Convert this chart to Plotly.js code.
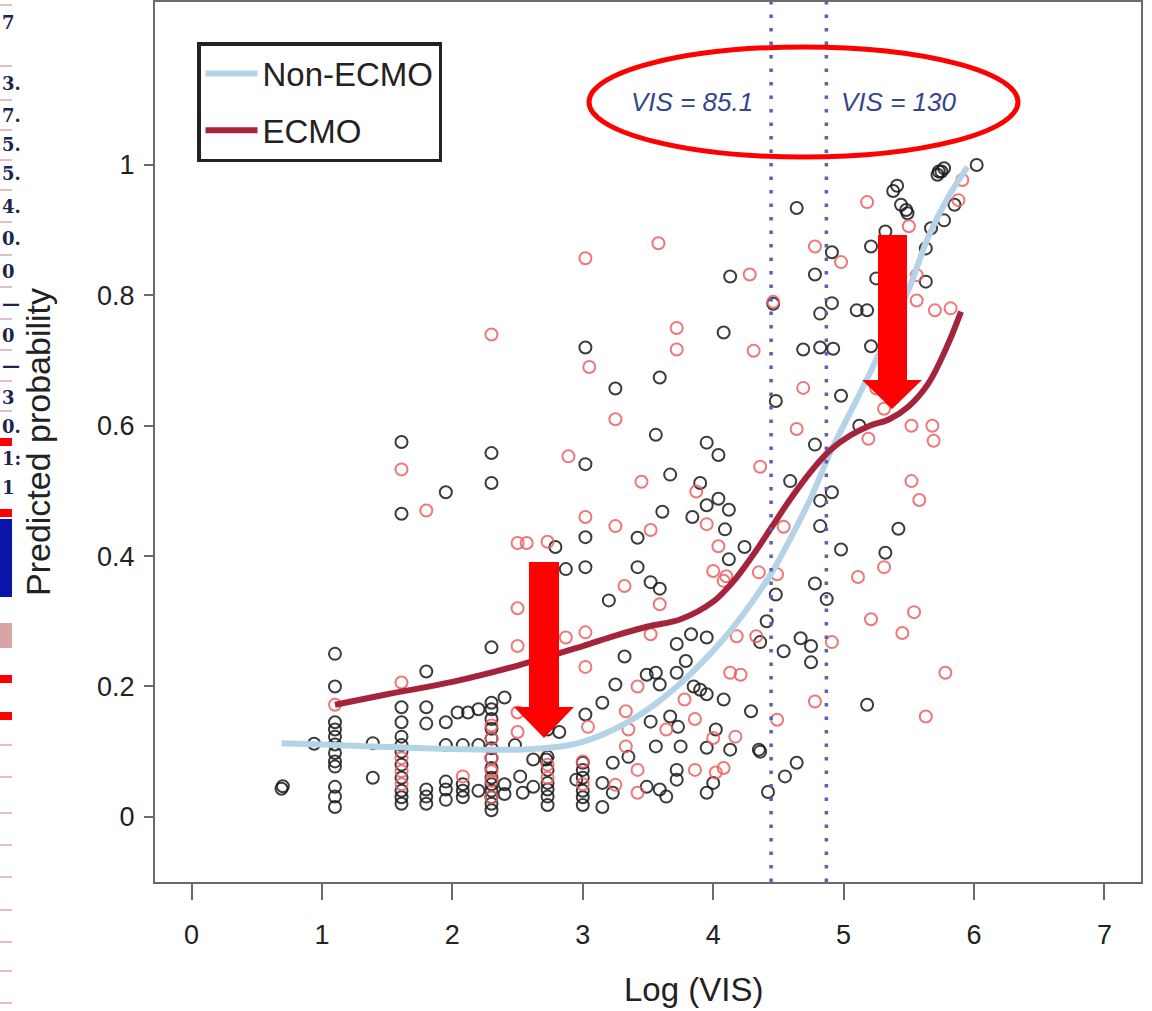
<!DOCTYPE html>
<html>
<head>
<meta charset="utf-8">
<script src="https://cdn.plot.ly/plotly-3.0.1.min.js"></script>
<style>html,body{margin:0;padding:0;background:#fff;}#chart{width:1152px;height:1011px;}</style>
</head>
<body>
<div id="chart"></div>
<script>
// ---------- data ----------
const blackX = [
0.69,0.70,0.94,
1.10,1.10,1.10,1.10,1.10,1.10,1.10,1.10,1.10,1.10,1.10,1.10,
1.39,1.39,
1.61,1.61,1.61,1.61,1.61,1.61,1.61,1.61,1.61,1.61,1.61,1.61,
1.80,1.80,1.80,1.80,1.80,1.80,
1.95,1.95,1.95,1.95,1.95,1.95,
2.04,2.12,2.08,2.08,2.08,2.08,
2.20,2.20,2.20,
2.30,2.30,2.30,2.30,2.30,2.30,2.30,2.30,2.30,2.30,2.30,2.30,2.30,2.30,2.30,2.30,2.30,
2.40,2.40,2.40,
2.48,2.52,2.54,2.62,2.62,2.72,
2.73,2.73,2.73,2.73,2.73,2.73,2.73,
2.82,2.79,2.87,2.95,
3.00,3.00,3.00,3.00,3.00,3.00,3.02,
3.02,3.02,3.02,3.02,
3.15,3.15,3.15,3.23,3.23,3.20,3.25,3.25,
3.32,3.35,3.42,3.42,3.49,3.49,3.52,3.52,3.56,3.56,3.56,3.59,3.59,3.59,3.59,3.61,3.64,
3.67,3.67,3.72,3.72,3.72,3.72,3.73,3.75,3.79,3.83,3.84,3.85,3.90,3.90,
3.95,3.95,3.95,3.95,3.95,3.95,4.00,4.02,
4.04,4.04,4.08,4.08,4.09,4.12,4.12,4.13,4.13,4.24,4.29,4.35,4.36,4.36,
4.41,4.42,4.48,4.48,4.46,4.54,4.55,4.59,4.64,4.64,4.67,4.69,4.75,4.75,4.78,4.78,4.78,
4.82,4.82,4.82,4.82,4.87,4.91,4.91,4.91,4.92,4.98,4.98,
5.10,5.12,5.18,5.18,5.21,5.21,5.25,5.32,5.32,5.38,5.41,5.42,5.44,5.48,5.49,
5.63,5.63,5.67,5.72,5.73,5.75,5.77,5.77,5.85,6.02
];
const blackY = [
0.043,0.047,0.112,
0.25,0.20,0.145,0.134,0.123,0.111,0.098,0.085,0.077,0.046,0.031,0.015,
0.113,0.06,
0.575,0.465,0.168,0.145,0.123,0.11,0.10,0.08,0.06,0.04,0.03,0.02,
0.223,0.168,0.143,0.042,0.031,0.02,
0.498,0.145,0.11,0.054,0.042,0.026,
0.16,0.16,0.11,0.05,0.04,0.03,
0.165,0.11,0.04,
0.558,0.512,0.26,0.175,0.165,0.15,0.135,0.12,0.105,0.09,0.075,0.06,0.05,0.04,0.03,0.02,0.01,
0.183,0.05,0.035,
0.11,0.062,0.037,0.046,0.088,0.088,
0.134,0.092,0.072,0.052,0.042,0.031,0.018,
0.13,0.414,0.38,0.057,
0.083,0.072,0.06,0.04,0.03,0.018,0.157,
0.72,0.541,0.429,0.383,
0.175,0.015,0.052,0.083,0.037,0.332,0.657,0.203,
0.246,0.092,0.428,0.383,0.218,0.046,0.36,0.146,0.586,0.221,0.108,0.674,0.35,0.203,0.042,0.468,0.031,
0.525,0.154,0.265,0.221,0.072,0.057,0.138,0.108,0.239,0.28,0.46,0.2,0.512,0.195,
0.574,0.478,0.275,0.188,0.106,0.037,0.052,0.134,
0.555,0.488,0.743,0.18,0.441,0.471,0.395,0.829,0.103,0.414,0.162,0.103,0.268,0.1,
0.3,0.038,0.638,0.341,0.787,0.254,0.062,0.515,0.934,0.083,0.274,0.717,0.262,0.237,0.832,0.571,0.358,
0.772,0.72,0.485,0.446,0.334,0.866,0.788,0.498,0.718,0.646,0.41,
0.777,0.6,0.777,0.172,0.875,0.722,0.826,0.898,0.405,0.96,0.968,0.442,0.939,0.931,0.926,
0.872,0.821,0.903,0.985,0.99,0.99,0.995,0.915,0.939,1.0
];
const redX = [
1.10,
1.61,1.61,1.61,1.61,1.61,
1.80,2.08,
2.30,2.30,2.30,2.30,2.30,2.30,2.30,
2.50,2.50,2.50,2.50,2.50,
2.57,2.73,2.73,2.73,2.87,2.89,
3.00,3.00,3.02,3.02,3.02,3.02,3.04,3.05,
3.25,3.25,3.25,3.32,3.33,3.33,3.35,3.42,3.42,3.42,3.45,3.52,3.52,3.58,3.59,3.64,
3.72,3.72,3.78,3.86,3.86,3.87,3.95,4.00,4.00,4.02,4.04,4.08,4.08,4.10,4.13,4.17,4.18,4.21,4.28,
4.31,4.33,4.35,4.36,4.46,4.49,4.49,4.54,4.64,4.69,4.78,4.78,4.91,4.98,
5.11,5.18,5.19,5.21,5.25,5.31,5.31,5.45,5.50,5.52,5.52,5.54,5.56,5.56,5.58,5.63,5.68,5.69,5.70,5.78,5.82,5.88,5.91
];
const redY = [
0.172,
0.533,0.206,0.09,0.07,0.05,
0.47,0.062,
0.74,0.14,0.12,0.09,0.07,0.055,0.03,
0.42,0.32,0.262,0.16,0.13,
0.42,0.422,0.08,0.06,0.275,0.553,
0.085,0.05,0.857,0.283,0.23,0.46,0.138,0.69,
0.61,0.446,0.049,0.354,0.162,0.108,0.134,0.2,0.072,0.037,0.514,0.44,0.28,0.88,0.326,0.134,
0.75,0.717,0.18,0.15,0.072,0.499,0.449,0.377,0.121,0.068,0.415,0.362,0.075,0.369,0.221,0.123,0.277,0.218,0.832,
0.715,0.277,0.375,0.537,0.79,0.372,0.149,0.445,0.595,0.658,0.875,0.177,0.268,0.851,
0.368,0.943,0.58,0.303,0.657,0.626,0.383,0.282,0.906,0.6,0.515,0.314,0.831,0.792,0.486,0.154,0.6,0.577,0.777,0.221,0.78,0.946,0.977
];
// smoothed curves
const nonEcmoX = [0.69,1.0,1.5,2.0,2.5,2.8,3.0,3.25,3.5,3.75,4.0,4.15,4.3,4.45,4.6,4.75,4.9,5.05,5.2,5.35,5.5,5.65,5.8,5.95];
const nonEcmoY = [0.113,0.111,0.107,0.104,0.103,0.107,0.115,0.135,0.165,0.205,0.255,0.29,0.33,0.375,0.43,0.49,0.56,0.62,0.68,0.745,0.81,0.89,0.95,0.997];
const ecmoX = [1.1,1.5,2.0,2.5,3.0,3.25,3.5,3.75,4.0,4.15,4.3,4.45,4.6,4.75,4.9,5.05,5.2,5.35,5.5,5.65,5.8,5.9];
const ecmoY = [0.172,0.188,0.207,0.232,0.262,0.278,0.292,0.303,0.33,0.36,0.40,0.445,0.49,0.53,0.563,0.585,0.6,0.61,0.63,0.665,0.725,0.775];
// cut-offs
const cutVIS = [85.1, 130];
const cutLabels = ['VIS = 85.1', 'VIS = 130'];
const xTicks = [0,1,2,3,4,5,6,7];
const yTicks = [0,0.2,0.4,0.6,0.8,1];
const yTickText = ['0','0.2','0.4','0.6','0.8','1'];
// left strip fragments (cropped table)
const stripTexts = ['7','3.','7.','5.','5.','4.','0.','0','—','0','—','3','0.','1:','1'];

// ---------- helpers (pixel -> paper) ----------
const PL = 155, PT = 2, PW = 986, PH = 880;
const ppx = px => (px - PL) / PW;
const ppy = py => (PT + PH - py) / PH;
const FONT = 'Liberation Sans, Arial, Helvetica, sans-serif';

const traces = [
  {x: blackX, y: blackY, type: 'scatter', mode: 'markers', showlegend: false, hoverinfo: 'x+y',
   marker: {symbol: 'circle-open', size: 12, color: 'rgba(25,25,25,0.85)', line: {width: 2}}},
  {x: redX, y: redY, type: 'scatter', mode: 'markers', showlegend: false, hoverinfo: 'x+y',
   marker: {symbol: 'circle-open', size: 12, color: 'rgba(236,95,95,0.85)', line: {width: 2}}},
  {x: nonEcmoX, y: nonEcmoY, type: 'scatter', mode: 'lines', name: 'Non-ECMO', legendgroup: 'a',
   line: {color: '#b5d3e7', width: 6, shape: 'spline', smoothing: 1}},
  {x: ecmoX, y: ecmoY, type: 'scatter', mode: 'lines', name: 'ECMO', legendgroup: 'b',
   line: {color: '#a4253b', width: 6, shape: 'spline', smoothing: 1}}
];

const shapes = [];
const annotations = [];

// dotted cut-off lines
cutVIS.forEach(v => {
  shapes.push({type: 'line', xref: 'x', yref: 'paper', x0: Math.log(v), x1: Math.log(v), y0: 0, y1: 1,
    line: {color: '#5a5fb8', width: 3.5, dash: '3.5px,10px'}});
});
// annotation ellipse
shapes.push({type: 'circle', xref: 'paper', yref: 'paper',
  x0: ppx(589), x1: ppx(1018), y0: ppy(157), y1: ppy(47), line: {color: '#ff0000', width: 5}});
// red arrows
function arrow(l, r, top, hb, hl, hr, tipx, tipy) {
  return 'M' + ppx(l) + ',' + ppy(top) + ' L' + ppx(r) + ',' + ppy(top) + ' L' + ppx(r) + ',' + ppy(hb) +
    ' L' + ppx(hr) + ',' + ppy(hb) + ' L' + ppx(tipx) + ',' + ppy(tipy) + ' L' + ppx(hl) + ',' + ppy(hb) +
    ' L' + ppx(l) + ',' + ppy(hb) + ' Z';
}
shapes.push({type: 'path', xref: 'paper', yref: 'paper', path: arrow(529, 559, 562, 707, 514, 574, 544, 738),
  fillcolor: '#ff0000', line: {width: 0}});
shapes.push({type: 'path', xref: 'paper', yref: 'paper', path: arrow(878, 907, 235, 380, 862, 922, 892, 409),
  fillcolor: '#ff0000', line: {width: 0}});

annotations.push({xref: 'paper', yref: 'paper', x: ppx(692), y: ppy(102), text: cutLabels[0], showarrow: false,
  font: {family: FONT, size: 26, color: '#34478a', style: 'italic'}, xanchor: 'center', yanchor: 'middle'});
annotations.push({xref: 'paper', yref: 'paper', x: ppx(898), y: ppy(102), text: cutLabels[1], showarrow: false,
  font: {family: FONT, size: 26, color: '#34478a', style: 'italic'}, xanchor: 'center', yanchor: 'middle'});

// x-axis title
annotations.push({xref: 'paper', yref: 'paper', x: ppx(693), y: ppy(989), text: 'Log (VIS)', showarrow: false,
  font: {family: FONT, size: 33, color: '#222'}, xanchor: 'center', yanchor: 'middle'});

// ---- left cropped strip ----
const stripY = [23, 84, 116, 145, 174, 206, 239, 271, 303, 335, 365, 397, 426, 458, 487];
stripTexts.forEach((t, i) => {
  annotations.push({xref: 'paper', yref: 'paper', x: ppx(0), y: ppy(stripY[i]), text: '<b>' + t + '</b>', showarrow: false,
    xanchor: 'left', yanchor: 'middle', font: {family: 'DejaVu Serif, serif', size: 18, color: '#1b2550'}});
});
const pinkLines = [5, 66, 100, 130, 160, 190, 222, 255, 287, 319, 350, 381, 411, 745, 777, 813, 845, 877, 910, 942, 971, 1003];
pinkLines.forEach(y => shapes.push({type: 'line', xref: 'paper', yref: 'paper', x0: ppx(0), x1: ppx(12), y0: ppy(y), y1: ppy(y),
  line: {color: '#e2a6ad', width: 1.5}}));
[442, 513, 679, 716].forEach(y => shapes.push({type: 'rect', xref: 'paper', yref: 'paper', x0: ppx(0), x1: ppx(12),
  y0: ppy(y + 4), y1: ppy(y - 4), fillcolor: '#ff0000', line: {width: 0}}));
shapes.push({type: 'rect', xref: 'paper', yref: 'paper', x0: ppx(0), x1: ppx(12), y0: ppy(597), y1: ppy(519),
  fillcolor: '#0a14a8', line: {width: 0}});
shapes.push({type: 'rect', xref: 'paper', yref: 'paper', x0: ppx(0), x1: ppx(12), y0: ppy(648), y1: ppy(623),
  fillcolor: '#d9a4a4', line: {width: 0}});

const layout = {
  width: 1152, height: 1011,
  margin: {l: PL, r: 1152 - PL - PW, t: PT, b: 1011 - PT - PH},
  paper_bgcolor: '#ffffff', plot_bgcolor: '#ffffff',
  font: {family: FONT, color: '#222'},
  showlegend: true,
  legend: {x: ppx(197), y: ppy(42), xanchor: 'left', yanchor: 'top', bgcolor: '#ffffff',
    bordercolor: '#222', borderwidth: 3.5, font: {family: FONT, size: 33, color: '#222'},
    tracegroupgap: 11, itemwidth: 52},
  xaxis: {range: [-0.28, 7.28], tickvals: xTicks, ticktext: xTicks.map(String), showgrid: false, zeroline: false,
    showline: true, mirror: true, linecolor: '#6a6a6a', linewidth: 2,
    ticks: 'outside', ticklen: 16, tickwidth: 2, tickcolor: '#6a6a6a',
    tickfont: {family: FONT, size: 27, color: '#222'}, ticklabelstandoff: 12,
    title: {text: ''}},
  yaxis: {range: [-0.1, 1.25], tickvals: yTicks, ticktext: yTickText, showgrid: false, zeroline: false,
    showline: true, mirror: true, linecolor: '#6a6a6a', linewidth: 2,
    ticks: 'outside', ticklen: 9, tickwidth: 2, tickcolor: '#6a6a6a',
    tickfont: {family: FONT, size: 27, color: '#222'}, ticklabelstandoff: 4,
    title: {text: 'Predicted probability', font: {family: FONT, size: 34, color: '#222'}, standoff: 36}},
  shapes: shapes,
  annotations: annotations
};

Plotly.newPlot('chart', traces, layout, {displayModeBar: false, staticPlot: true});
</script>
</body>
</html>
